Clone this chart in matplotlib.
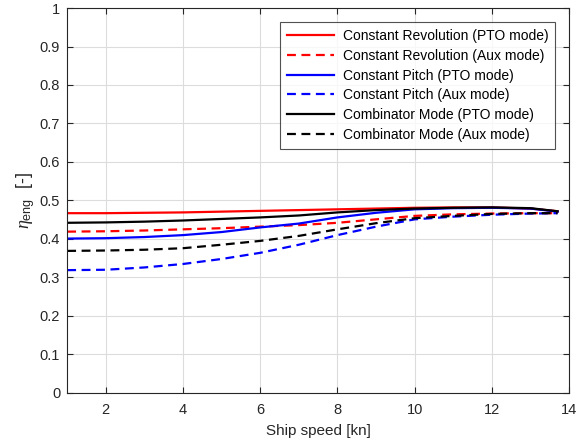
import matplotlib
matplotlib.use("Agg")
import matplotlib.pyplot as plt

plt.rcParams['font.family'] = ['Liberation Sans', 'DejaVu Sans']
plt.rcParams['mathtext.fontset'] = 'custom'
plt.rcParams['mathtext.rm'] = 'Liberation Sans'
plt.rcParams['mathtext.it'] = 'Liberation Serif:italic'

speed = [1, 2, 3, 4, 5, 6, 7, 8, 9, 10, 11, 12, 13, 13.7]
cr_pto = [0.467, 0.467, 0.468, 0.469, 0.471, 0.473, 0.475, 0.477, 0.479, 0.481, 0.482, 0.482, 0.479, 0.472]
cr_aux = [0.419, 0.420, 0.422, 0.425, 0.428, 0.432, 0.436, 0.442, 0.451, 0.460, 0.464, 0.466, 0.467, 0.467]
cp_pto = [0.401, 0.402, 0.405, 0.410, 0.418, 0.430, 0.440, 0.456, 0.468, 0.477, 0.480, 0.481, 0.479, 0.471]
cp_aux = [0.319, 0.320, 0.326, 0.335, 0.348, 0.364, 0.385, 0.410, 0.432, 0.451, 0.458, 0.463, 0.466, 0.467]
cm_pto = [0.442, 0.443, 0.445, 0.448, 0.452, 0.456, 0.461, 0.469, 0.475, 0.479, 0.481, 0.482, 0.480, 0.472]
cm_aux = [0.369, 0.370, 0.372, 0.376, 0.385, 0.395, 0.408, 0.425, 0.441, 0.454, 0.460, 0.465, 0.467, 0.467]

labels = ["Constant Revolution (PTO mode)", "Constant Revolution (Aux mode)",
          "Constant Pitch (PTO mode)", "Constant Pitch (Aux mode)",
          "Combinator Mode (PTO mode)", "Combinator Mode (Aux mode)"]

fig = plt.figure(figsize=(5.79, 4.45), dpi=100)
ax = fig.add_axes([0.116, 0.117, 0.867, 0.865])

dash = (4, 2.5)
series = [(cr_pto, 'red', '-'), (cr_aux, 'red', '--'),
          (cp_pto, 'blue', '-'), (cp_aux, 'blue', '--'),
          (cm_pto, 'black', '-'), (cm_aux, 'black', '--')]
for (vals, c, ls), lab in zip(series, labels):
    line, = ax.plot(speed, vals, color=c, lw=1.6, label=lab)
    if ls == '--':
        line.set_dashes(dash)

ax.set_xlim(1, 14)
ax.set_ylim(0, 1)
ax.set_xticks([2, 4, 6, 8, 10, 12, 14])
ax.set_yticks([0, 0.1, 0.2, 0.3, 0.4, 0.5, 0.6, 0.7, 0.8, 0.9, 1])
ax.set_yticklabels(['0', '0.1', '0.2', '0.3', '0.4', '0.5', '0.6', '0.7', '0.8', '0.9', '1'])
ax.grid(True, color='#dcdcdc', lw=0.8)
ax.set_axisbelow(True)
for s in ax.spines.values():
    s.set_color('#262626')
    s.set_linewidth(0.8)
ax.tick_params(direction='in', length=4, colors='#262626', labelsize=10.5, top=True, right=True,
               labeltop=False, labelright=False)
ax.tick_params(axis='x', pad=7)
ax.tick_params(axis='y', pad=5)
ax.set_xlabel('Ship speed [kn]', fontsize=11, color='#262626', labelpad=5)
ax.set_ylabel(r'$\eta_{\mathrm{eng}}$  [-]', fontsize=13, color='#262626', labelpad=2)

leg = ax.legend(loc='upper right', fontsize=10, frameon=True, fancybox=False,
                edgecolor='#262626', handlelength=3.4, borderaxespad=1.0, labelspacing=0.42,
                borderpad=0.5, handletextpad=0.6)
leg.get_frame().set_linewidth(0.8)

fig.savefig('out.png', dpi=100)
